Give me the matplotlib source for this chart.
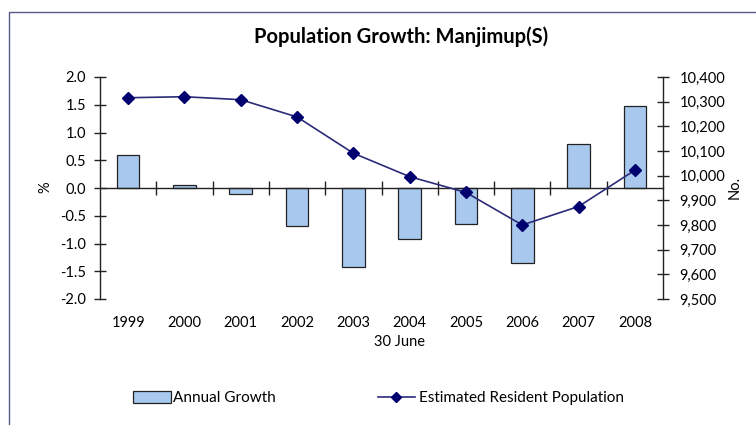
import matplotlib
matplotlib.use("Agg")
import matplotlib.pyplot as plt
from matplotlib.patches import Rectangle, Patch
from matplotlib.lines import Line2D
from matplotlib import transforms

plt.rcParams['font.family'] = ['Lato', 'DejaVu Sans']

# data
years = ['1999', '2000', '2001', '2002', '2003', '2004', '2005', '2006', '2007', '2008']
growth = [0.60, 0.05, -0.10, -0.68, -1.43, -0.92, -0.64, -1.35, 0.79, 1.48]
population = [10316, 10320, 10308, 10238, 10091, 9996, 9932, 9800, 9875, 10022]
left_ticks = [-2.0, -1.5, -1.0, -0.5, 0.0, 0.5, 1.0, 1.5, 2.0]
right_ticks = [9500, 9600, 9700, 9800, 9900, 10000, 10100, 10200, 10300, 10400]

W, H = 756, 425
bar_col = '#a8c8ee'
line_col = '#2b2b7a'
mark_col = '#00006e'

fig = plt.figure(figsize=(W / 100, H / 100), dpi=100)
ax = fig.add_axes([100 / W, 1 - 299 / H, (663 - 100) / W, (299 - 77) / H])
ax.patch.set_alpha(0)

x = list(range(len(years)))
ax.bar(x, growth, width=0.4, color=bar_col, edgecolor='#222222', linewidth=0.9, zorder=2)
ax.set_xlim(-0.5, len(years) - 0.5)
ax.set_ylim(-2, 2)
ax.set_yticks(left_ticks)
ax.set_yticklabels([f"{v:.1f}" for v in left_ticks])

ax.spines['top'].set_visible(False)
ax.spines['right'].set_visible(False)
ax.spines['bottom'].set_position(('data', 0))
for s in ('left', 'bottom'):
    ax.spines[s].set_linewidth(1.0)
    ax.spines[s].set_color('#222222')

ax.set_xticks([i + 0.5 for i in x[:-1]])
ax.set_xticklabels([])
ax.tick_params(axis='x', direction='inout', length=10, width=1, color='#222222')
ax.tick_params(axis='y', direction='inout', length=8, width=1, color='#222222',
               labelsize=10.5, pad=6)

# year labels below the plot area
trans = transforms.blended_transform_factory(ax.transData, ax.transAxes)
for i, yr in enumerate(years):
    ax.text(i, -24 / 222, yr, transform=trans, ha='center', va='center', fontsize=10.5)

ax2 = ax.twinx()
ax2.plot(x, population, color=line_col, linewidth=1.2, marker='D', markersize=6,
         markerfacecolor=mark_col, markeredgecolor=mark_col, zorder=3)
ax2.set_ylim(9500, 10400)
ax2.set_yticks(right_ticks)
ax2.set_yticklabels([f"{v:,}" for v in right_ticks])
for s in ('top', 'left', 'bottom'):
    ax2.spines[s].set_visible(False)
ax2.spines['right'].set_linewidth(1.0)
ax2.spines['right'].set_color('#222222')
ax2.tick_params(axis='y', direction='inout', length=8, width=1, color='#222222',
                labelsize=10.5, pad=8)

fig.text(401 / W, 1 - 37 / H, 'Population Growth: Manjimup(S)', ha='center', va='center',
         fontsize=14.5, fontweight='bold')
fig.text(400 / W, 1 - 342 / H, '30 June', ha='center', va='center', fontsize=10.5)
fig.text(45 / W, 1 - 187 / H, '%', ha='center', va='center', rotation=90, fontsize=10.5)
fig.text(735 / W, 1 - 187 / H, 'No.', ha='center', va='center', rotation=90, fontsize=10.5)

# legends
h1 = Patch(facecolor=bar_col, edgecolor='#222222', linewidth=0.9)
h2 = Line2D([], [], color=line_col, linewidth=1.2, marker='D', markersize=5,
            markerfacecolor=mark_col, markeredgecolor=mark_col)
fig.legend([h1], ['Annual Growth'], loc='center left', bbox_to_anchor=(133 / W, 1 - 398 / H),
           frameon=False, fontsize=11, handlelength=2.5, handleheight=0.9,
           handletextpad=0.1, borderpad=0, borderaxespad=0)
fig.legend([h2], ['Estimated Resident Population'], loc='center left',
           bbox_to_anchor=(378 / W, 1 - 398 / H), frameon=False, fontsize=11,
           handlelength=2.4, handletextpad=0.3, borderpad=0, borderaxespad=0)

# outer frame, cut off at right and bottom edges
fig.patches.append(Rectangle((9 / W, -0.1), 1.2, 1.1 - 12 / H, transform=fig.transFigure,
                             fill=False, edgecolor='#5a5a88', linewidth=1.0))

fig.savefig('out.png', dpi=100)
